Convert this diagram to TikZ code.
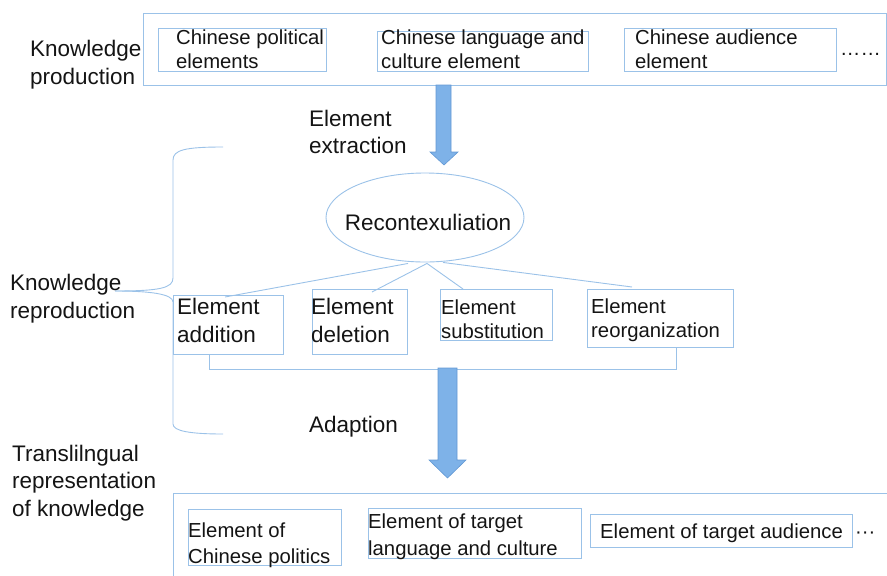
\documentclass[tikz,border=0pt]{standalone}
\usepackage{fontspec}
\setmainfont{Liberation Sans}
\usetikzlibrary{shapes.geometric}
\definecolor{lb}{RGB}{155,194,232}
\definecolor{af}{RGB}{126,178,232}
\definecolor{ad}{RGB}{98,152,212}
\definecolor{tx}{RGB}{20,20,20}
\begin{document}
\begin{tikzpicture}[x=1pt,y=-1pt,
  box/.style={draw=lb,line width=0.9pt,anchor=north west,inner sep=0pt,outer sep=0pt},
  big/.style={font=\fontsize{22.5}{27.2}\selectfont,text=tx,align=left,anchor=base west,inner sep=0pt},
  small/.style={font=\fontsize{20.3}{23.5}\selectfont,text=tx,align=left,anchor=base west,inner sep=0pt},
  ln/.style={draw=lb,line width=0.9pt},
  blockarrow/.style={fill=af,draw=ad,line width=0.6pt}]
\useasboundingbox (0,0) rectangle (887,576);
\clip (0,0) rectangle (887,576);

% top container
\node[box,minimum width=743pt,minimum height=72pt] (top) at (143,13) {};
\node[box,minimum width=168pt,minimum height=43pt] (p1) at (158,28) {};
\node[small] (p1t) at (176,68) {Chinese political\\elements};
\node[box,minimum width=211pt,minimum height=40pt] (p2) at (377,31) {};
\node[small] (p2t) at (381,68) {Chinese language and\\culture element};
\node[box,minimum width=212pt,minimum height=43pt] (p3) at (624,28) {};
\node[small] (p3t) at (635,68) {Chinese audience\\element};
\node[small] (pdots) at (840,55) {……};

\node[big] (kp) at (30,84) {Knowledge\\production};

% arrow 1
\draw[blockarrow] (436,85) -- (451,85) -- (451,152) -- (458,152) -- (444,165) -- (430,152) -- (436,152) -- cycle;
\node[big,font=\fontsize{22.5}{27}\selectfont] (ext) at (309,153) {Element\\extraction};

% ellipse
\node[ellipse,draw=lb,line width=0.9pt,minimum width=198pt,minimum height=89pt,inner sep=0pt] (rc) at (425,217.5) {};
\node[big,anchor=base] (rct) at (428,230) {Recontexuliation};

% second row
\node[box,minimum width=110pt,minimum height=59pt] (add) at (173,295) {};
\node[big] (addt) at (177,342) {Element\\addition};
\node[box,minimum width=95pt,minimum height=65pt] (del) at (312,289) {};
\node[big] (delt) at (311,342) {Element\\deletion};
\node[box,minimum width=112pt,minimum height=51pt] (sub) at (440,289) {};
\node[small,font=\fontsize{20.3}{24}\selectfont] (subt) at (441,338) {Element\\substitution};
\node[box,minimum width=146pt,minimum height=58pt] (reo) at (587,289) {};
\node[small,font=\fontsize{20.3}{24}\selectfont] (reot) at (591,337) {Element\\reorganization};

\draw[ln] ([xshift=-17pt,yshift=-1pt]rc.south) -- ([xshift=-3pt,yshift=-2pt]add.north);
\draw[ln] ([xshift=2pt,yshift=-1pt]rc.south) -- ([xshift=12.5pt,yshift=-3pt]del.north);
\draw[ln] ([xshift=2pt,yshift=-1pt]rc.south) -- ([xshift=-33pt]sub.north);
\draw[ln] ([xshift=18pt]rc.south) -- ([xshift=-28pt,yshift=2pt]reo.north);

\draw[ln] ([xshift=-19pt]add.south) -- ++(0,15) -| ([xshift=16pt]reo.south);

% brace
\draw[ln] (223,147) .. controls (185,147) and (173,150) .. (173,160) -- (173,278) .. controls (173,288) and (160,291) .. (115,291);
\draw[ln] (115,291) .. controls (150,291) and (173,294) .. (173,302) -- (173,424) .. controls (173,431) and (190,434) .. (223,434);
\node[big] (kr) at (10,318) {Knowledge\\reproduction};

% arrow 2
\draw[blockarrow] (438,368) -- (457,368) -- (457,460) -- (466,460) -- (447.5,478) -- (429,460) -- (438,460) -- cycle;
\node[big] (adp) at (309,432) {Adaption};

\node[big,font=\fontsize{22.5}{27.5}\selectfont] (tr) at (12,516) {Translilngual\\representation\\of knowledge};

% bottom container
\node[box,minimum width=740pt,minimum height=110pt] (bot) at (173,493) {};
\node[box,minimum width=153pt,minimum height=56pt] (b1) at (188,509) {};
\node[small,font=\fontsize{20.3}{26}\selectfont] (b1t) at (188,563) {Element of\\Chinese politics};
\node[box,minimum width=213pt,minimum height=50pt] (b2) at (368,508) {};
\node[small,font=\fontsize{20.3}{27}\selectfont] (b2t) at (368,555) {Element of target\\language and culture};
\node[box,minimum width=262pt,minimum height=33pt] (b3) at (590,514) {};
\node[small] (b3t) at (600,538) {Element of target audience};
\node[small] (bdots) at (855,538) {···};
\end{tikzpicture}
\end{document}
